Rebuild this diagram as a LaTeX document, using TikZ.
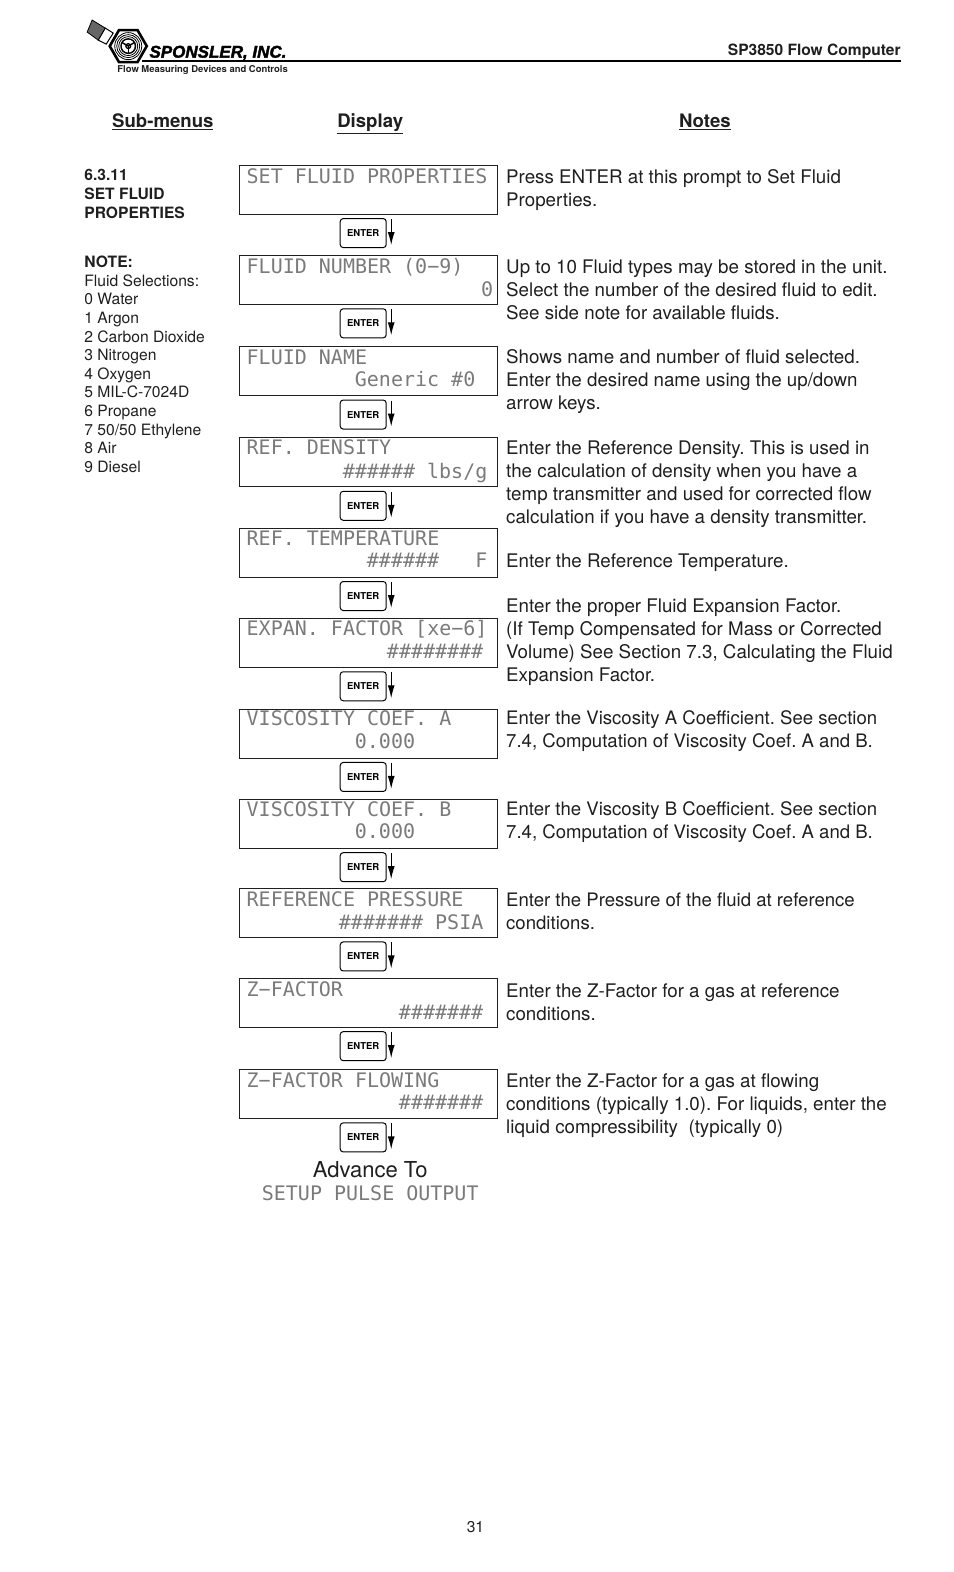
\documentclass[tikz,border=0pt]{standalone}
\usepackage{fontspec}
\setmainfont{TeX Gyre Heros}
\newfontfamily\lcdfont{DejaVu Sans Mono}
\newfontfamily\logofont[BoldItalicFeatures={FakeBold=2.2}]{Liberation Sans}
\usetikzlibrary{arrows.meta,shapes.geometric}
\definecolor{lcdgray}{gray}{0.48}
\definecolor{inkc}{gray}{0.12}
\tikzset{
  disp/.style={draw=inkc,line width=0.9pt,inner sep=0,outer sep=0,minimum width=258pt,minimum height=49pt,anchor=north west},
  lcd/.style={anchor=base west,inner sep=0,text=lcdgray,font=\lcdfont\fontsize{20}{20}\selectfont},
  lcdc/.style={anchor=base,inner sep=0,text=lcdgray,font=\lcdfont\fontsize{20}{20}\selectfont},
  enterbtn/.style={draw=black,line width=1pt,rounded corners=3pt,minimum width=46pt,minimum height=29pt,inner sep=0,font=\bfseries\fontsize{9.5}{10}\selectfont},
  flow/.style={-{Latex[length=13pt,width=7pt]},line width=1.2pt,black},
  note/.style={anchor=north west,inner sep=0,align=left,text=inkc,execute at begin node=\frenchspacing\strut,font=\fontsize{18.75}{23}\selectfont},
  notetight/.style={note,font=\fontsize{18.58}{23}\selectfont},
  side/.style={anchor=north west,inner sep=0,align=left,text=inkc,execute at begin node=\strut,font=\fontsize{15.65}{18.6}\selectfont},
  head/.style={anchor=base,inner sep=0,text=inkc,font=\bfseries\fontsize{18.6}{23}\selectfont},
}
\begin{document}
\begin{tikzpicture}[x=1.002pt,y=-1.0026pt]
\useasboundingbox (0,0) rectangle (952,1568);
% logo
\draw[line width=2pt] (142,61) -- (899,61);
\node[shape=regular polygon,regular polygon sides=6,draw=black,line width=2.6pt,minimum size=37pt,inner sep=0] (hex) at (128,46) {};
\foreach \r in {13.5,11.5,9.5} \draw[line width=0.8pt] (hex.center) circle (\r pt);
\fill[black] (hex.center) circle (8pt);
\fill[white] (hex.center) circle (6.4pt);
\foreach \a in {30,150,270} \draw[line width=1.4pt] (hex.center) -- ++(\a:7pt);
\draw[line width=1.3pt] (hex.center) circle (2.4pt);
\draw[line width=1pt,fill=white] (105,28) -- (113,33) -- (106,44) -- (98,40) -- cycle;
\draw[line width=0.8pt,fill=black!60] (92,20) -- (105,28) -- (98,40) -- (87,32) -- cycle;
\node[inner sep=0,anchor=base west,font=\logofont\bfseries\itshape\fontsize{17}{17}\selectfont] (brand) at (149,57.5) {SPONSLER, INC.};
\node[inner sep=0,anchor=base west,text=inkc,font=\bfseries\fontsize{9.45}{10}\selectfont] (tag) at (117,72.5) {Flow Measuring Devices and Controls};
\node[anchor=base east,inner sep=0,text=inkc,font=\bfseries\fontsize{15.55}{16}\selectfont] (title) at (899,55) {SP3850 Flow Computer};
\node[head] (h1) at (162.5,127) {\underline{Sub-menus}};
\node[head] (h2) at (369.5,127) {\underline{Display}};
\node[head] (h3) at (703.5,127) {\underline{Notes}};
% side column
\node[side,font=\bfseries\fontsize{15.6}{19}\selectfont] (sec) at (84,169) {6.3.11\\SET FLUID\\PROPERTIES};
\node[side] (sidenote) at (84,255.3) {\textbf{NOTE:}\\Fluid Selections:\\0 Water\\1 Argon\\2 Carbon Dioxide\\3 Nitrogen\\4 Oxygen\\5 MIL-C-7024D\\6 Propane\\7 50/50 Ethylene\\8 Air\\9 Diesel};
% displays
\node[disp] (d1) at (239,165) {};
\node[disp] (d2) at (239,255) {};
\node[disp] (d3) at (239,346) {};
\node[disp] (d4) at (239,436.5) {};
\node[disp] (d5) at (239,527) {};
\node[disp] (d6) at (239,617) {};
\node[disp] (d7) at (239,707.5) {};
\node[disp] (d8) at (239,797.5) {};
\node[disp] (d9) at (239,886.5) {};
\node[disp] (d10) at (239,976) {};
\node[disp] (d11) at (239,1067) {};
% display text
\node[lcd] (a1) at (246,183) {SET FLUID PROPERTIES};
\node[lcd] (a2) at (246,273) {FLUID NUMBER (0−9)};
\node[lcd] (b2) at (480,296) {0};
\node[lcd] (a3) at (246,363.5) {FLUID NAME};
\node[lcd] (b3) at (354,386) {Generic \#0};
\node[lcd] (a4) at (246,453.5) {REF. DENSITY};
\node[lcd] (b4) at (342,477) {\#\#\#\#\#\# lbs/g};
\node[lcd] (a5) at (246,544) {REF. TEMPERATURE};
\node[lcd] (b5) at (366,566) {\#\#\#\#\#\#\ \ \ F};
\node[lcd] (a6) at (246,634) {EXPAN. FACTOR [xe−6]};
\node[lcd] (b6) at (386,657) {\#\#\#\#\#\#\#\#};
\node[lcd] (a7) at (246,724) {VISCOSITY COEF. A};
\node[lcd] (b7) at (354,746.5) {0.000};
\node[lcd] (a8) at (246,814.5) {VISCOSITY COEF. B};
\node[lcd] (b8) at (354,836.5) {0.000};
\node[lcd] (a9) at (246,904) {REFERENCE PRESSURE};
\node[lcd] (b9) at (338,927) {\#\#\#\#\#\#\# PSIA};
\node[lcd] (a10) at (246,994) {Z−FACTOR};
\node[lcd] (b10) at (398,1017) {\#\#\#\#\#\#\#};
\node[lcd] (a11) at (246,1084.5) {Z−FACTOR FLOWING};
\node[lcd] (b11) at (398,1107) {\#\#\#\#\#\#\#};
% enter buttons
\node[enterbtn] (e1) at (362.5,232.5) {ENTER};
\node[enterbtn] (e2) at (362.5,322.5) {ENTER};
\node[enterbtn] (e3) at (362.5,413.5) {ENTER};
\node[enterbtn] (e4) at (362.5,504.5) {ENTER};
\node[enterbtn] (e5) at (362.5,594.5) {ENTER};
\node[enterbtn] (e6) at (362.5,684.5) {ENTER};
\node[enterbtn] (e7) at (362.5,775) {ENTER};
\node[enterbtn] (e8) at (362.5,865) {ENTER};
\node[enterbtn] (e9) at (362.5,954) {ENTER};
\node[enterbtn] (e10) at (362.5,1043.5) {ENTER};
\node[enterbtn] (e11) at (362.5,1134.5) {ENTER};
\foreach \i in {1,...,11}
  \draw[flow] ([xshift=4.5pt,yshift=-1pt]e\i.north east) -- ([xshift=4.5pt,yshift=3pt]e\i.south east);
% end
\node[anchor=base,inner sep=0,text=inkc,font=\fontsize{22}{24}\selectfont] (adv) at (369.5,1174) {Advance To};
\node[lcdc] (next) at (369.5,1197) {SETUP PULSE OUTPUT};
% notes
\node[note] (n1) at (505,169) {Press ENTER at this prompt to Set Fluid\\Properties.};
\node[note] (n2) at (505,259) {Up to 10 Fluid types may be stored in the unit.\\Select the number of the desired fluid to edit.\\See side note for available fluids.};
\node[note] (n3) at (505,348) {Shows name and number of fluid selected.\\Enter the desired name using the up/down\\arrow keys.};
\node[note] (n4) at (505,439.5) {Enter the Reference Density. This is used in\\the calculation of density when you have a\\temp transmitter and used for corrected flow\\calculation if you have a density transmitter.};
\node[note] (n5) at (505,550) {Enter the Reference Temperature.};
\node[note] (n6) at (505,597) {Enter the proper Fluid Expansion Factor.\\(If Temp Compensated for Mass or Corrected\\Volume) See Section 7.3, Calculating the Fluid\\Expansion Factor.};
\node[notetight] (n7) at (505,709) {Enter the Viscosity A Coefficient. See section\\7.4, Computation of Viscosity Coef. A and B.};
\node[notetight] (n8) at (505,799) {Enter the Viscosity B Coefficient. See section\\7.4, Computation of Viscosity Coef. A and B.};
\node[notetight] (n9) at (505,890) {Enter the Pressure of the fluid at reference\\conditions.};
\node[note] (n10) at (505,981) {Enter the Z-Factor for a gas at reference\\conditions.};
\node[note] (n11) at (505,1071) {Enter the Z-Factor for a gas at flowing\\conditions (typically 1.0). For liquids, enter the\\liquid compressibility\ \ (typically 0)};
\node[anchor=base,inner sep=0,text=inkc,font=\fontsize{15.6}{16}\selectfont] (page) at (474.5,1529) {31};
\end{tikzpicture}
\end{document}
